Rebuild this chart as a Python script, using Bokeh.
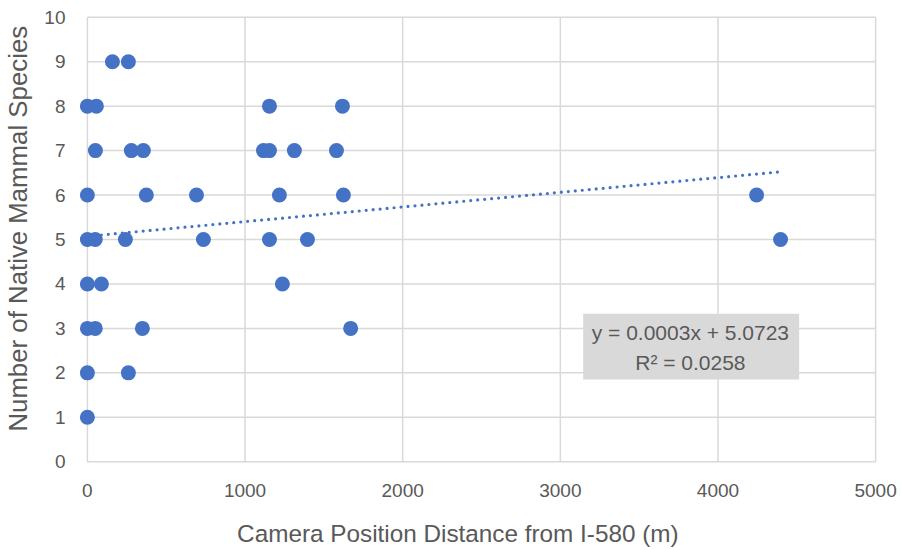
from bokeh.plotting import figure
from bokeh.models import FixedTicker, Range1d, BoxAnnotation, Label
from bokeh.embed import file_html
from bokeh.resources import INLINE

# Data
distance_m = [159, 260,
              0, 57, 1155, 1618,
              51, 279, 355, 1117, 1155, 1313, 1580,
              0, 374, 692, 1218, 1624, 4245,
              0, 50, 241, 736, 1155, 1396, 4397,
              0, 89, 1237,
              0, 50, 349, 1670,
              0, 260,
              0]
species = [9, 9,
           8, 8, 8, 8,
           7, 7, 7, 7, 7, 7, 7,
           6, 6, 6, 6, 6, 6,
           5, 5, 5, 5, 5, 5, 5,
           4, 4, 4,
           3, 3, 3, 3,
           2, 2,
           1]
x_ticks = [0, 1000, 2000, 3000, 4000, 5000]
y_ticks = [0, 1, 2, 3, 4, 5, 6, 7, 8, 9, 10]
trend_slope = 0.00033
trend_intercept = 5.0723
r_squared = 0.0258
x_title = "Camera Position Distance from I-580 (m)"
y_title = "Number of Native Mammal Species"

FONT = "Liberation Sans"
TXT = "#595959"
GRID = "#D9D9D9"
BLUE = "#4472C4"
NBSP = "\u00a0"

p = figure(width=901, height=550, output_backend="svg", toolbar_location=None,
           x_range=Range1d(-50, 5050), y_range=Range1d(-0.04, 10.04),
           min_border_left=79, min_border_right=18, min_border_top=15,
           min_border_bottom=87)
p.outline_line_color = None
p.xgrid.visible = False
p.ygrid.visible = False

# grid lines bounded to the tick extents
p.segment(x0=[x_ticks[0]] * len(y_ticks), x1=[x_ticks[-1]] * len(y_ticks),
          y0=y_ticks, y1=y_ticks, line_color=GRID, line_width=1.5)
p.segment(x0=x_ticks, x1=x_ticks, y0=[y_ticks[0]] * len(x_ticks),
          y1=[y_ticks[-1]] * len(x_ticks), line_color=GRID, line_width=1.5)

# linear trendline (Excel equation), drawn across the data extent
tx = [min(distance_m), max(distance_m)]
ty = [trend_slope * v + trend_intercept for v in tx]
p.line(tx, ty, line_color=BLUE, line_width=3.2, line_dash="0 7", line_cap="round")

p.scatter(distance_m, species, size=15, fill_color=BLUE, line_color=None)

# equation box
box = BoxAnnotation(left=3145, right=4515, bottom=1.85, top=3.33,
                    fill_color=GRID, fill_alpha=1, line_color=None)
p.add_layout(box)
p.add_layout(Label(x=3825, y=2.9, text=f"y = {trend_slope:.4f}x + {trend_intercept:.4f}",
                   text_align="center", text_baseline="middle", text_font=FONT,
                   text_font_size="21px", text_color=TXT))
p.add_layout(Label(x=3825, y=2.24, text=f"R\u00b2 = {r_squared:.4f}",
                   text_align="center", text_baseline="middle", text_font=FONT,
                   text_font_size="21px", text_color=TXT))

for ax in (p.xaxis[0], p.yaxis[0]):
    ax.axis_line_color = None
    ax.major_tick_line_color = None
    ax.minor_tick_line_color = None
    ax.major_tick_out = 0
    ax.minor_tick_out = 0
    ax.major_label_text_font = FONT
    ax.major_label_text_font_size = "19px"
    ax.major_label_text_color = TXT
    ax.axis_label_text_font = FONT
    ax.axis_label_text_font_style = "normal"
    ax.axis_label_text_color = TXT

p.xaxis.ticker = FixedTicker(ticks=x_ticks)
p.yaxis.ticker = FixedTicker(ticks=y_ticks)
p.xaxis.major_label_standoff = 20
p.yaxis.major_label_standoff = 14

# axis titles; padded with no-break spaces so that, as in Excel, they centre
# on the whole chart rather than on the plot area
p.xaxis.axis_label = x_title + NBSP * 7
p.xaxis.axis_label_text_font_size = "24.3px"
p.xaxis.axis_label_standoff = 20
p.yaxis.axis_label = NBSP * 3 + y_title
p.yaxis.axis_label_text_font_size = "25.8px"
p.yaxis.axis_label_standoff = 9

open("out.html", "w").write(file_html(p, INLINE))
